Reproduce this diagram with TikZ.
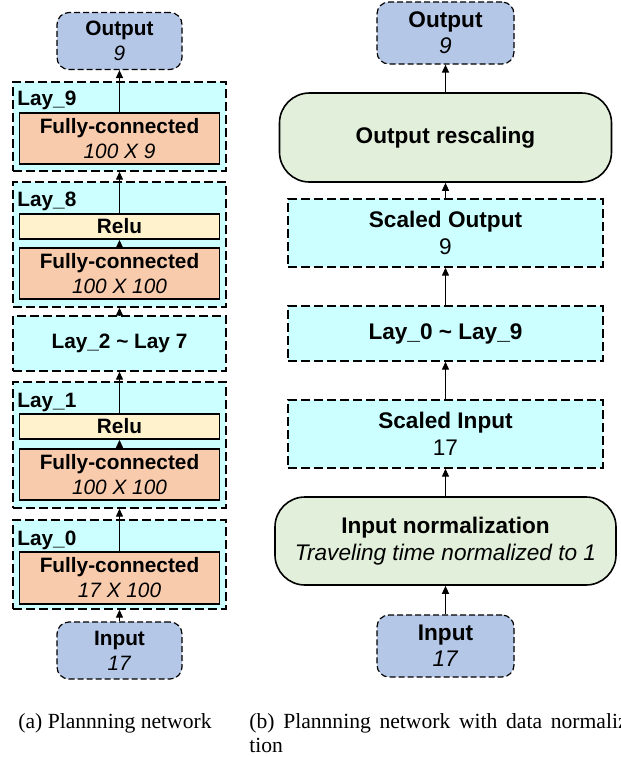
\documentclass[tikz,border=0pt]{standalone}
\usepackage{fontspec}
\setmainfont{Liberation Sans}
\newfontfamily\capfont{Liberation Serif}
\usepackage{xcolor}
\definecolor{ioblue}{RGB}{180,199,231}
\definecolor{laycyan}{RGB}{204,255,255}
\definecolor{fcorange}{RGB}{248,203,173}
\definecolor{reluyellow}{RGB}{255,242,204}
\definecolor{procgreen}{RGB}{226,239,218}
\usetikzlibrary{arrows.meta}
\newcommand{\leftfont}{\fontsize{10.4}{12.5}\selectfont}
\newcommand{\rightfont}{\fontsize{11.3}{13.2}\selectfont}

\begin{document}
\begin{tikzpicture}[x=0.5pt, y=-0.5pt,
  iobox/.style={draw, fill=ioblue, dash pattern=on 3pt off 1.5pt, line width=0.6pt,
      rounded corners=6pt, inner sep=0pt, align=center},
  laybox/.style={draw, fill=laycyan, dash pattern=on 4.5pt off 2pt, line width=0.7pt,
      inner sep=0pt, align=center},
  fcbox/.style={draw, fill=fcorange, line width=0.9pt, inner sep=0pt, align=center,
      minimum width=100pt, minimum height=25.5pt, font=\leftfont},
  relubox/.style={draw, fill=reluyellow, line width=0.9pt, inner sep=0pt,
      minimum width=100pt, minimum height=12.5pt, font=\leftfont\bfseries},
  procbox/.style={draw, fill=procgreen, line width=0.8pt, rounded corners=15pt,
      inner sep=0pt, align=center, font=\rightfont},
  laylabel/.style={anchor=base west, inner sep=0pt, font=\leftfont\bfseries},
  caption/.style={inner sep=0pt, font=\capfont\fontsize{10.8}{12}\selectfont},
  conn/.style={line width=0.65pt, -{Triangle[length=4pt,width=3.5pt]}}]

\useasboundingbox (0,0) rectangle (621,757);

% (a) planning network
\node[iobox, minimum width=62.5pt, minimum height=28.5pt, font=\leftfont] (outA) at (119.5,41)
  {\textbf{Output}\\\textit{9}};

\node[laybox, minimum width=106.5pt, minimum height=44.5pt] (lay9) at (119.5,126.5) {};
\node[laylabel] (lab9) at (17,105.5) {Lay\_9};
\node[fcbox] (fc9) at (119.5,138.5) {\textbf{Fully-connected}\\\textit{100 X 9}};

\node[laybox, minimum width=106.5pt, minimum height=62.5pt] (lay8) at (119.5,244.5) {};
\node[laylabel] (lab8) at (17,206.5) {Lay\_8};
\node[relubox] (relu8) at (119.5,226.5) {Relu};
\node[fcbox] (fc8) at (119.5,273.5) {\textbf{Fully-connected}\\\textit{100 X 100}};

\node[laybox, minimum width=106.5pt, minimum height=27.5pt, font=\leftfont\bfseries] (lay27)
  at (119.5,343.5) {Lay\_2 \textasciitilde{} Lay 7};

\node[laybox, minimum width=106.5pt, minimum height=63pt] (lay1) at (119.5,445) {};
\node[laylabel] (lab1) at (17,407.5) {Lay\_1};
\node[relubox] (relu1) at (119.5,426.5) {Relu};
\node[fcbox] (fc1) at (119.5,474.5) {\textbf{Fully-connected}\\\textit{100 X 100}};

\node[laybox, minimum width=106.5pt, minimum height=44.5pt] (lay0) at (119.5,564.5) {};
\node[laylabel] (lab0) at (17,545.5) {Lay\_0};
\node[fcbox, minimum height=26pt] (fc0) at (119.5,578) {\textbf{Fully-connected}\\\textit{17 X 100}};

\node[iobox, minimum width=62.5pt, minimum height=28.5pt, font=\leftfont] (inA) at (119.5,650.5)
  {\textbf{Input}\\\textit{17}};

\draw[conn] (inA.north) -- (lay0.south);
\draw[conn] (fc0.north) -- (lay1.south);
\draw[conn] (fc1.north) -- (relu1.south);
\draw[conn] (relu1.north) -- (lay27.south);
\draw[conn] (lay27.north) -- (lay8.south);
\draw[conn] (fc8.north) -- (relu8.south);
\draw[conn] (relu8.north) -- (lay9.south);
\draw[conn] (fc9.north) -- (outA.south);

% (b) planning network with data normalization
\node[iobox, minimum width=68.5pt, minimum height=31pt, font=\rightfont] (outB) at (445.5,33)
  {\textbf{Output}\\\textit{9}};
\node[procbox, minimum width=166pt, minimum height=44.5pt] (rescale) at (445.5,137.5)
  {\textbf{Output rescaling}};
\node[laybox, minimum width=157.5pt, minimum height=34pt, font=\rightfont] (sout) at (445.5,233)
  {\textbf{Scaled Output}\\9};
\node[laybox, minimum width=157.5pt, minimum height=27.5pt, font=\rightfont\bfseries] (lay09)
  at (445.5,333.5) {Lay\_0 \textasciitilde{} Lay\_9};
\node[laybox, minimum width=157.5pt, minimum height=34pt, font=\rightfont] (sin) at (445.5,434)
  {\textbf{Scaled Input}\\17};
\node[procbox, minimum width=170.5pt, minimum height=44pt] (norm) at (445.5,541)
  {\textbf{Input normalization}\\\textit{Traveling time normalized to 1}};
\node[iobox, minimum width=68.5pt, minimum height=31pt, font=\rightfont] (inB) at (445.5,646)
  {\textbf{Input}\\\textit{17}};

\draw[conn] (inB) -- (norm);
\draw[conn] (norm) -- (sin);
\draw[conn] (sin) -- (lay09);
\draw[conn] (lay09) -- (sout);
\draw[conn] (sout) -- (rescale);
\draw[conn] (rescale) -- (outB);

% captions
\node[caption, anchor=base west] (capA) at (18,728) {(a) Plannning network};
\node[caption, anchor=base west, text width=197.5pt, align=justify] (capB) at (249,728)
  {(b) Plannning network with data normaliza-\linebreak tion};

\end{tikzpicture}
\end{document}
